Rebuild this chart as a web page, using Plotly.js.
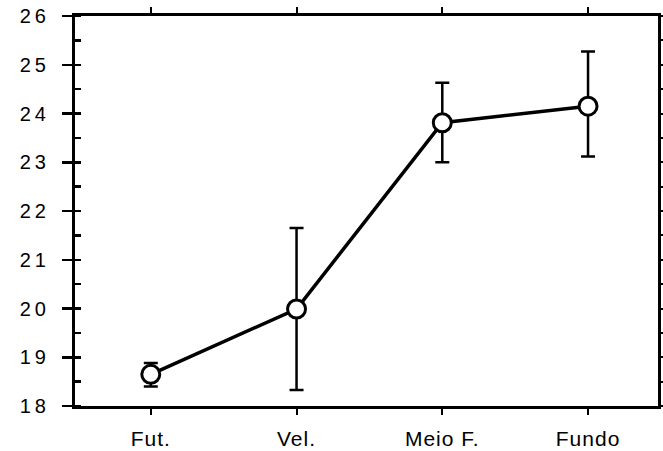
<!DOCTYPE html>
<html>
<head>
<meta charset="utf-8">
<script src="https://cdn.plot.ly/plotly-3.0.1.min.js"></script>
<style>
html,body{margin:0;padding:0;background:#fff;}
#chart{width:663px;height:451px;}
.ytick text{letter-spacing:4px;}
.xtick text{letter-spacing:1px;}
</style>
</head>
<body>
<div id="chart"></div>
<script>
const categories = ["Fut.", "Vel.", "Meio F.", "Fundo"];
const means = [18.65, 19.99, 23.81, 24.15];
const upper = [18.88, 21.65, 24.63, 25.27];
const lower = [18.40, 18.33, 23.00, 23.12];

const errPlus = means.map((m, i) => upper[i] - m);
const errMinus = means.map((m, i) => m - lower[i]);
const xIdx = categories.map((c, i) => i);

const yFont = {family: "Liberation Sans, Arial, sans-serif", size: 20, color: "#000"};
const xFont = {family: "Liberation Sans, Arial, sans-serif", size: 21, color: "#000"};

const traces = [
  {
    x: xIdx, y: means, type: "scatter", mode: "lines+markers",
    line: {color: "#000", width: 3.5},
    marker: {symbol: "circle", size: 18, color: "#fff", line: {color: "#000", width: 3}},
    error_y: {type: "data", symmetric: false, array: errPlus, arrayminus: errMinus,
              color: "#000", thickness: 2.5, width: 7},
    hoverinfo: "skip", showlegend: false
  },
  {
    x: xIdx, y: means, xaxis: "x2", yaxis: "y2", type: "scatter", mode: "markers",
    marker: {opacity: 0}, hoverinfo: "skip", showlegend: false
  }
];

const layout = {
  width: 663, height: 451,
  margin: {l: 75, r: 5, t: 16, b: 45},
  paper_bgcolor: "#fff", plot_bgcolor: "#fff",
  font: yFont,
  xaxis: {
    range: [-0.52, 3.48], tickvals: xIdx, ticktext: categories,
    showgrid: false, zeroline: false, showline: true, linecolor: "#000", linewidth: 3,
    ticks: "outside", ticklen: 6, tickwidth: 2, tickcolor: "#000",
    ticklabelstandoff: 6,
    tickfont: xFont
  },
  xaxis2: {
    overlaying: "x", side: "top", anchor: "y", range: [-0.52, 3.48], tickvals: xIdx,
    showticklabels: false, showgrid: false, zeroline: false, showline: true,
    linecolor: "#000", linewidth: 3, ticks: "outside", ticklen: 6, tickwidth: 2, tickcolor: "#000"
  },
  yaxis: {
    range: [18, 26], dtick: 1, tick0: 18,
    showgrid: false, zeroline: false, showline: true, linecolor: "#000", linewidth: 3,
    ticks: "outside", ticklen: 10, tickwidth: 2.5, tickcolor: "#000",
    minor: {dtick: 0.5, ticks: "inside", ticklen: 6, tickwidth: 2.5, tickcolor: "#000", showgrid: false},
    ticklabelstandoff: 8,
    tickfont: yFont
  },
  yaxis2: {
    overlaying: "y", side: "right", anchor: "x", range: [18, 26], dtick: 0.5, tick0: 18,
    showticklabels: false, showgrid: false, zeroline: false, showline: true,
    linecolor: "#000", linewidth: 3, ticks: "outside", ticklen: 5, tickwidth: 2, tickcolor: "#000"
  }
};

Plotly.newPlot("chart", traces, layout, {staticPlot: true, displayModeBar: false});
</script>
</body>
</html>
